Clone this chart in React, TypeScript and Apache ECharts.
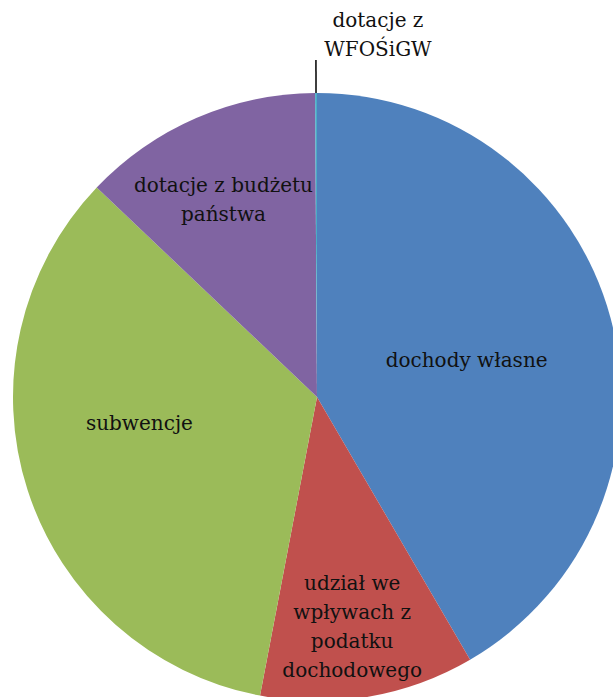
import React, { useEffect, useRef } from "react";
import * as echarts from "echarts";

const categories = [
  "dochody własne",
  "udział we\nwpływach z\npodatku\ndochodowego",
  "subwencje",
  "dotacje z budżetu\npaństwa",
  "dotacje z\nWFOŚiGW",
];
const values = [41.6, 11.4, 34.1, 12.8, 0.1];
const colors = ["#4F81BD", "#C0504D", "#9BBB59", "#8064A2", "#4BACC6"];
// label nudges relative to ECharts' default inside positions
const labelShift = [
  [0, 3],
  [9, 77],
  [-30, -21],
  [-32, -55],
];

export default function App() {
  const ref = useRef<HTMLDivElement>(null);
  useEffect(() => {
    if (!ref.current) return;
    const chart = echarts.init(ref.current, undefined, { renderer: "svg" });
    const font = {
      fontFamily: "DejaVu Serif",
      fontSize: 20,
      lineHeight: 29,
      color: "#111",
    };
    chart.setOption({
      animation: false,
      series: [
        {
          type: "pie",
          center: [317, 397],
          radius: [0, 304],
          startAngle: 90,
          clockwise: true,
          avoidLabelOverlap: false,
          silent: true,
          itemStyle: { borderWidth: 0 },
          label: { show: true, position: "inside", ...font },
          labelLine: { show: false },
          data: categories.map((name, i) => {
            const d: any = {
              name,
              value: values[i],
              itemStyle: { color: colors[i] },
            };
            if (i === 4) {
              d.label = { show: true, position: "outside", ...font };
              d.labelLine = {
                show: true,
                length: 33,
                length2: 0,
                lineStyle: { color: "#000", width: 1.5 },
              };
            }
            return d;
          }),
          labelLayout: (params: any) => {
            const i = params.dataIndex;
            if (i < 4) {
              return { dx: labelShift[i][0], dy: labelShift[i][1] };
            }
            const p = params.labelLinePoints;
            if (!p) return {};
            const pts = p.map((q: number[]) => [q[0], q[1]]);
            return {
              x: pts[1][0] + 62,
              y: pts[1][1] - 26,
              align: "center",
              verticalAlign: "middle",
              labelLinePoints: pts,
            };
          },
        },
      ],
    });
    return () => chart.dispose();
  }, []);
  return (
    <div
      ref={ref}
      style={{ position: "absolute", left: 0, top: 0, width: 613, height: 697 }}
    />
  );
}
